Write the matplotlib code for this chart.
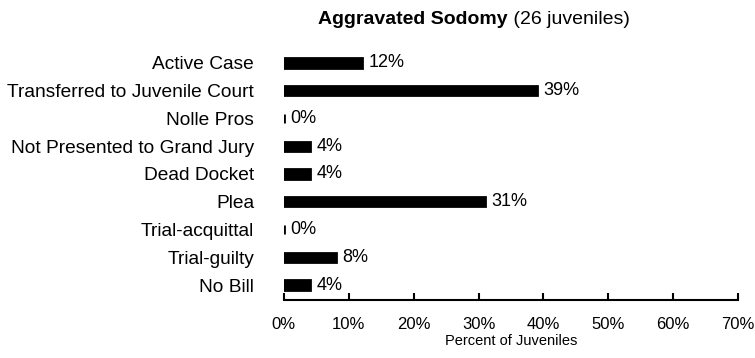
import matplotlib.pyplot as plt

plt.rcParams['font.family'] = ['Liberation Sans', 'DejaVu Sans']

# Case outcomes for 26 juveniles, as percentages
outcomes = ['Active Case', 'Transferred to Juvenile Court', 'Nolle Pros',
            'Not Presented to Grand Jury', 'Dead Docket', 'Plea',
            'Trial-acquittal', 'Trial-guilty', 'No Bill']
percents = [12, 39, 0, 4, 4, 31, 0, 8, 4]

fig = plt.figure(figsize=(7.55, 3.58), dpi=100)
ax = fig.add_axes([0.376, 0.162, 0.6015, 0.704])

ypos = list(range(len(outcomes)))[::-1]
ax.barh(ypos, percents, height=0.34, color='black', edgecolor='black', linewidth=2)
for y, p in zip(ypos, percents):
    ax.text(p + 1.0, y, f'{p}%', va='center', ha='left', fontsize=13)

ax.set_xlim(0, 70)
ax.set_ylim(-0.54, len(outcomes) - 0.46)
ax.set_xticks(range(0, 71, 10))
ax.set_xticklabels([f'{t}%' for t in range(0, 71, 10)], fontsize=12)
ax.set_yticks(ypos)
ax.set_yticklabels(outcomes, fontsize=13.8)
ax.tick_params(axis='x', direction='in', length=5, width=1.5, pad=12)
ax.tick_params(axis='y', length=0, pad=21.5)
for side in ['top', 'right', 'left']:
    ax.spines[side].set_visible(False)
ax.spines['bottom'].set_linewidth(1.5)
ax.set_xlabel('Percent of Juveniles', fontsize=10.5, labelpad=2)

title = fig.text(318 / 755, 1 - 20 / 358, 'Aggravated Sodomy', fontsize=14,
                 fontweight='bold', ha='left', va='center')
ax.annotate(' (26 juveniles)', xy=(1, 0.5), xycoords=title, fontsize=14,
            ha='left', va='center')

fig.savefig('out.png', dpi=100)
